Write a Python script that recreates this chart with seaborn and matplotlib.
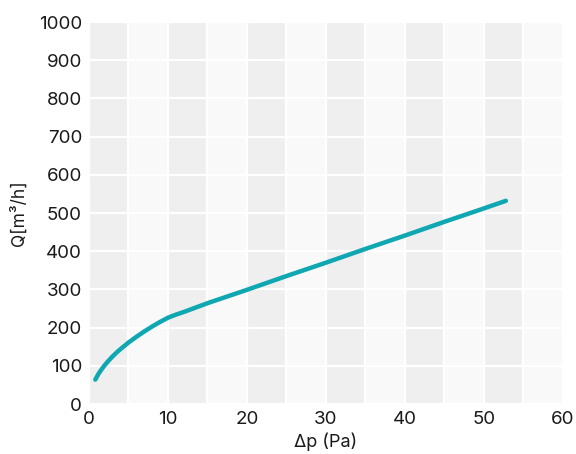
import seaborn as sns
import matplotlib.pyplot as plt
import pandas as pd
from matplotlib.ticker import MultipleLocator

# pressure drop (Pa) vs air flow (m3/h)
dp = [0.8, 1.2, 1.6, 2, 2.5, 3, 3.5, 4, 5, 6, 7, 8, 9, 10, 11, 12, 15, 20, 25, 30, 35, 40, 45, 50, 52.8]
flow = [64, 79, 91, 102, 114, 125, 135, 144, 161, 176, 190, 203, 215, 226, 234, 241, 264, 299, 335, 370, 406, 441, 477, 512, 532]

x_ticks = [0, 10, 20, 30, 40, 50, 60]
y_ticks = [0, 100, 200, 300, 400, 500, 600, 700, 800, 900, 1000]

curve = pd.DataFrame({'dp': dp, 'flow': flow})

sns.set_style('white')
plt.rcParams['font.family'] = ['Inter', 'DejaVu Sans']

fig = plt.figure(figsize=(5.76, 4.54), dpi=100)
ax = fig.add_axes([0.1545, 0.110, 0.8225, 0.8415])
ax.set_facecolor('#f9f9f9')

# alternating vertical bands, 5 Pa wide
for start in range(0, 60, 10):
    ax.axvspan(start, start + 5, color='#efefef', zorder=0, lw=0)

sns.lineplot(data=curve, x='dp', y='flow', color='#0fa7b2', linewidth=3.2,
             solid_capstyle='round', ax=ax, zorder=3)

ax.set_xlim(0, 60)
ax.set_ylim(0, 1000)
ax.set_xticks(x_ticks)
ax.set_yticks(y_ticks)
ax.xaxis.set_minor_locator(MultipleLocator(5))
ax.grid(True, which='major', color='white', linewidth=1.6, zorder=1)
ax.grid(True, which='minor', axis='x', color='white', linewidth=1.6, zorder=1)
ax.set_axisbelow(True)
for s in ax.spines.values():
    s.set_visible(False)
ax.tick_params(axis='both', which='both', length=0, labelsize=13.5, colors='#1a1a1a', pad=5)

ax.set_xlabel('Δp (Pa)', fontsize=13, color='#1a1a1a', labelpad=3)
ax.set_ylabel('Q[m³/h]', fontsize=12.5, color='#1a1a1a', labelpad=8)

fig.savefig('out.png', dpi=100)
